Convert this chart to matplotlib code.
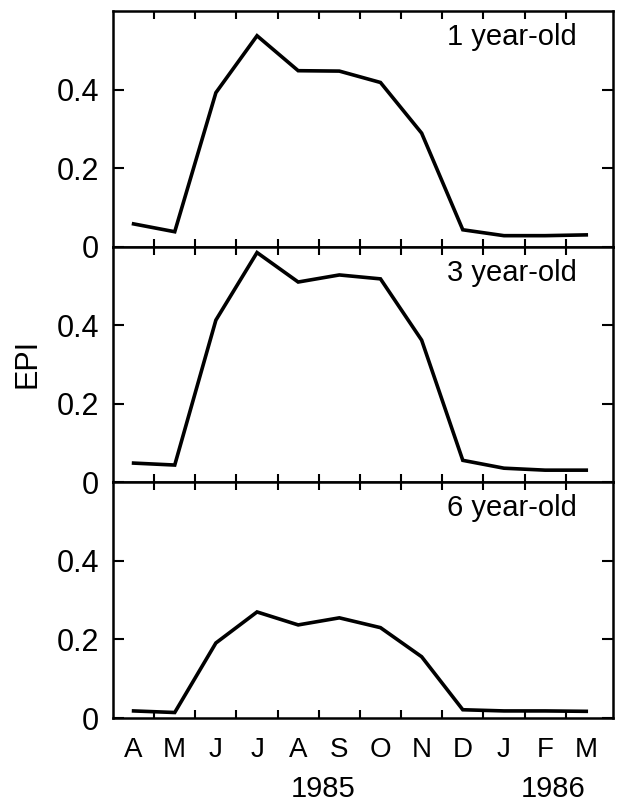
import numpy as np
import matplotlib
matplotlib.use("Agg")
import matplotlib.pyplot as plt
from matplotlib.ticker import FixedLocator

plt.rcParams['font.family'] = ['Liberation Sans', 'DejaVu Sans']

months = ['A', 'M', 'J', 'J', 'A', 'S', 'O', 'N', 'D', 'J', 'F', 'M']
years = ['1985', '1986']
year_pos = [4.6, 10.2]

ages = ['1 year-old', '3 year-old', '6 year-old']
epi_1yr = [0.058, 0.038, 0.392, 0.537, 0.448, 0.447, 0.418, 0.289, 0.043, 0.028, 0.028, 0.030]
epi_3yr = [0.049, 0.044, 0.413, 0.585, 0.510, 0.528, 0.518, 0.362, 0.056, 0.036, 0.031, 0.031]
epi_6yr = [0.018, 0.014, 0.191, 0.270, 0.237, 0.255, 0.230, 0.156, 0.021, 0.018, 0.018, 0.017]
series = [epi_1yr, epi_3yr, epi_6yr]

x = np.arange(len(months))

fig, axes = plt.subplots(3, 1, figsize=(6.17, 8.05), dpi=100, sharex=True)
fig.subplots_adjust(left=113/617, right=613/617, top=1-11/805, bottom=1-718/805, hspace=0)

for ax, vals, name in zip(axes, series, ages):
    ax.plot(x, vals, color='black', lw=2.6, solid_joinstyle='miter')
    ax.set_ylim(0, 0.6)
    ax.set_xlim(-0.5, 11.65)
    ax.set_yticks([0, 0.2, 0.4])
    ax.set_yticklabels(['0', '0.2', '0.4'])
    ax.xaxis.set_major_locator(FixedLocator(x[:-1] + 0.5))
    ax.tick_params(axis='y', direction='in', length=8, width=1.5, right=True,
                   labelsize=22, pad=10)
    ax.tick_params(axis='x', which='major', direction='in', length=6, width=1.5,
                   top=True, labelbottom=False)
    for s in ax.spines.values():
        s.set_linewidth(1.8)
    ax.text(0.928, 0.89, name, transform=ax.transAxes, ha='right', va='center',
            fontsize=21)

# month names sit under the data points, ticks fall between them
bottom = axes[-1]
bottom.set_xticks(x, minor=True)
bottom.set_xticklabels(months, minor=True)
bottom.tick_params(axis='x', which='minor', length=0, labelsize=20, pad=14,
                   labelbottom=True)

for yr, xp in zip(years, year_pos):
    bottom.text(xp, -0.30, yr, transform=bottom.get_xaxis_transform(),
                ha='center', va='center', fontsize=21)

fig.text(0.045, 1-363/805, 'EPI', rotation=90, ha='center', va='center', fontsize=22)

fig.savefig('out.png', dpi=100)
